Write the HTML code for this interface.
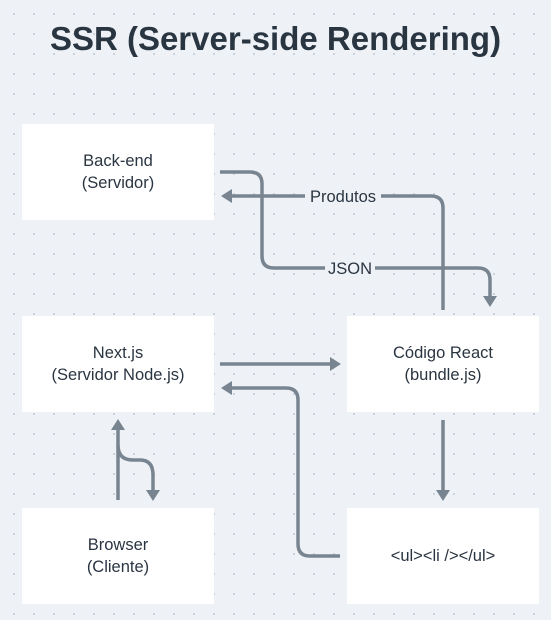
<!DOCTYPE html>
<html><head><meta charset="utf-8"><style>
body{margin:0;width:551px;height:620px;overflow:hidden;background-color:#eef2f7;background-image:radial-gradient(#c9d0da 1px,transparent 1.2px);background-size:20px 20px;background-position:4px 4px;font-family:"Liberation Sans",sans-serif;}
.t{position:absolute;top:20px;left:0;width:551px;text-align:center;font-size:33px;font-weight:bold;color:#2a3542;}
.b{position:absolute;width:192px;height:96px;background:#fff;display:flex;align-items:center;justify-content:center;text-align:center;font-size:16.5px;line-height:22px;color:#2a3542;}
svg{position:absolute;left:0;top:0}
</style></head><body>
<div class="t">SSR (Server-side Rendering)</div>
<div class="b" style="left:22px;top:124px">Back-end<br>(Servidor)</div>
<div class="b" style="left:22px;top:316px">Next.js<br>(Servidor Node.js)</div>
<div class="b" style="left:22px;top:508px">Browser<br>(Cliente)</div>
<div class="b" style="left:347px;top:316px">Código React<br>(bundle.js)</div>
<div class="b" style="left:347px;top:508px">&lt;ul&gt;&lt;li /&gt;&lt;/ul&gt;</div>
<svg width="551" height="620" fill="none" stroke="#78848f" stroke-width="3.5">
<path d="M220 172 H250 Q262 172 262 184 V256 Q262 268 274 268 H478 Q490 268 490 280 V298"/>
<path d="M443 310 V208 Q443 196 431 196 H230"/>
<path d="M220 364 H332"/>
<path d="M340 556 H310 Q298 556 298 544 V400 Q298 388 286 388 H230"/>
<path d="M443 420 V492"/>
<path d="M118 500 V428"/>
<path d="M118 445 Q118 460 133 460 H140 Q153 460 153 475 V492"/>
<g fill="#78848f" stroke="none">
<path d="M221 196 L232 189 V203Z"/>
<path d="M490 307 L483 296 H497Z"/>
<path d="M341 364 L330 357 V371Z"/>
<path d="M221 388 L232 381 V395Z"/>
<path d="M443 501 L436 490 H450Z"/>
<path d="M118 419 L111 430 H125Z"/>
<path d="M153 501 L146 490 H160Z"/>
</g>
<g stroke="none" fill="#eef2f7"><rect x="305" y="186" width="76" height="20"/><rect x="325" y="258" width="50" height="20"/></g>
<g stroke="none" fill="#2a3542" font-family="Liberation Sans,sans-serif" font-size="16.5" text-anchor="middle"><text x="343" y="202">Produtos</text><text x="350" y="274">JSON</text></g>
</svg>
</body></html>
